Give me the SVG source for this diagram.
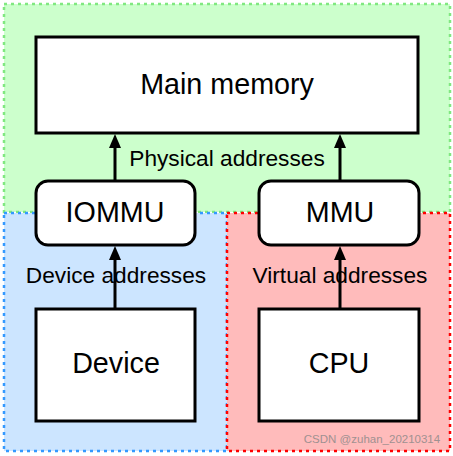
<svg xmlns="http://www.w3.org/2000/svg" width="453" height="456" viewBox="0 0 453 456">
<style>
.region{stroke-width:2.5;stroke-dasharray:3 4}
.box{fill:#fff;stroke:#000;stroke-width:3}
.t{font-family:"Liberation Sans",Arial,sans-serif;fill:#000;text-anchor:middle}
.big{font-size:28.7px}
.lbl{font-size:22.7px}
.edge{stroke:#000;stroke-width:3;fill:none}
</style>
<defs>
<path id="ah" d="M0,0 L6,14 L-6,14 Z" fill="#000"/>
</defs>
<rect width="453" height="456" fill="#fff"/>
<g id="regions">
<rect x="4" y="4" width="446" height="208" fill="#ccffcc" stroke="#80e880" class="region"/>
<rect x="4" y="213" width="223" height="238" fill="#cce5ff" stroke="#3399ff" class="region"/>
<rect x="227" y="213" width="223" height="238" fill="#ffbbbb" stroke="#ff0000" class="region"/>
</g>
<g id="connectors">
<line x1="115" y1="181" x2="115" y2="146" class="edge"/>
<use href="#ah" x="115" y="134"/>
<line x1="340" y1="181" x2="340" y2="146" class="edge"/>
<use href="#ah" x="340" y="134"/>
<line x1="115" y1="309" x2="115" y2="258" class="edge"/>
<use href="#ah" x="115" y="246"/>
<line x1="340" y1="309" x2="340" y2="258" class="edge"/>
<use href="#ah" x="340" y="246"/>
<text x="227" y="166" class="t lbl">Physical addresses</text>
<text x="116" y="283" class="t lbl">Device addresses</text>
<text x="340" y="283" class="t lbl">Virtual addresses</text>
</g>
<g id="main-memory">
<rect x="36" y="37" width="382" height="96" class="box"/>
<text x="227" y="94" class="t big">Main memory</text>
</g>
<g id="iommu">
<rect x="36" y="181" width="159" height="64" rx="12" class="box"/>
<text x="115" y="222" class="t big">IOMMU</text>
</g>
<g id="mmu">
<rect x="259" y="181" width="160" height="64" rx="12" class="box"/>
<text x="340" y="222" class="t big">MMU</text>
</g>
<g id="device">
<rect x="36" y="309" width="159" height="112" class="box"/>
<text x="116" y="373" class="t big">Device</text>
</g>
<g id="cpu">
<rect x="259" y="309" width="160" height="112" class="box"/>
<text x="339" y="373" class="t big">CPU</text>
</g>
<text x="372" y="443" font-family="Liberation Sans,Arial,sans-serif" font-size="11.5" fill="#8f8a8a" text-anchor="middle" opacity="0.85">CSDN @zuhan_20210314</text>
</svg>
